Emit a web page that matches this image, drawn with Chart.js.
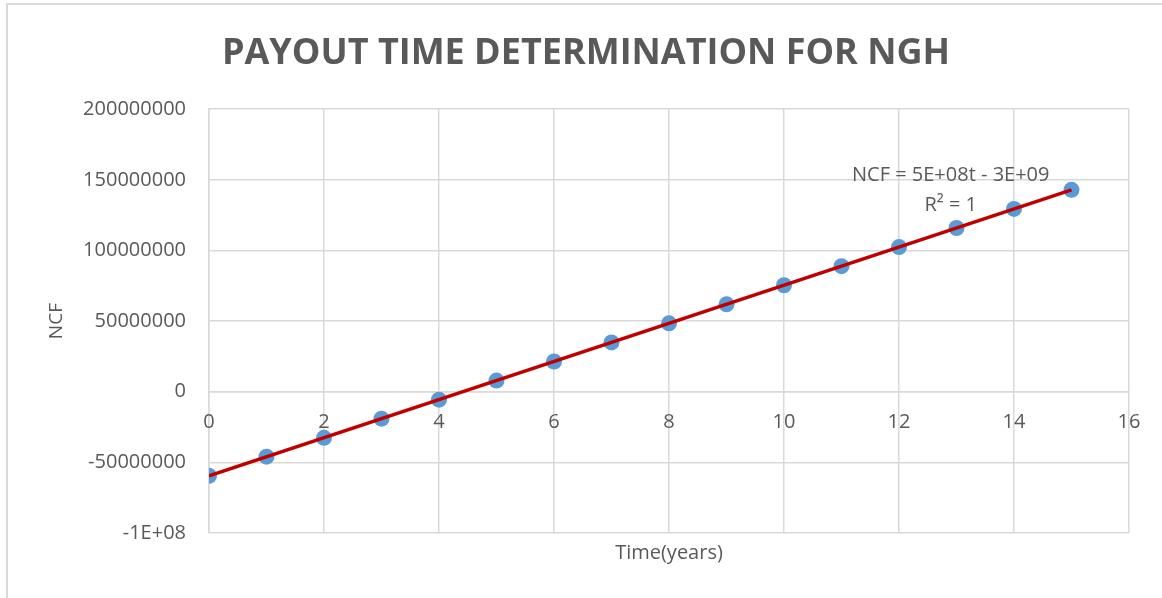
<!DOCTYPE html>
<html>
<head>
<meta charset="utf-8">
<title>Payout time determination for NGH</title>
<script src="https://cdn.jsdelivr.net/npm/chart.js@4.4.1/dist/chart.umd.min.js"></script>
<style>
  html, body { margin: 0; padding: 0; background: #fff; }
  #wrap {
    position: absolute;
    left: 6px;
    top: 3px;
    width: 1156px;
    height: 595px;
    border-left: 2px solid #d9d9d9;
    border-top: 2px solid #d9d9d9;
  }
</style>
</head>
<body>
<div id="wrap"><canvas id="chart"></canvas></div>
<script>
/* global Chart */

// Net cash flow, one value per year
const years = [0, 1, 2, 3, 4, 5, 6, 7, 8, 9, 10, 11, 12, 13, 14, 15];
const ncf = [
  -59.5e6, -46.0e6, -32.6e6, -19.1e6, -5.6e6, 7.9e6, 21.4e6, 34.9e6,
  48.4e6, 61.9e6, 75.4e6, 88.9e6, 102.4e6, 115.9e6, 129.4e6, 142.9e6
];

const yTickValues = [-1e8, -5e7, 0, 5e7, 1e8, 1.5e8, 2e8];
const yTickLabels = ['-1E+08', '-50000000', '0', '50000000', '100000000', '150000000', '200000000'];
const xTickLabels = ['0', '2', '4', '6', '8', '10', '12', '14', '16'];

const trendText = ['NCF = 5E+08t - 3E+09', 'R\u00b2 = 1'];

const TEXT = '#595959';
const GRID = '#d9d9d9';
const FONT = "'Open Sans', 'Liberation Sans', sans-serif";

// Least-squares line through the points (the Excel trendline)
function linearFit(xs, ys) {
  const n = xs.length;
  let sx = 0, sy = 0, sxy = 0, sxx = 0;
  for (let i = 0; i < n; i++) {
    sx += xs[i]; sy += ys[i]; sxy += xs[i] * ys[i]; sxx += xs[i] * xs[i];
  }
  const m = (n * sxy - sx * sy) / (n * sxx - sx * sx);
  return { m, b: (sy - m * sx) / n };
}
const fit = linearFit(years, ncf);
const tFirst = years[0];
const tLast = years[years.length - 1];

const trendLabel = {
  id: 'trendLabel',
  afterDatasetsDraw(chart) {
    const { ctx, scales } = chart;
    const x = scales.x.getPixelForValue(12.9);
    const ys = [153e6, 132e6].map(v => scales.y.getPixelForValue(v));
    ctx.save();
    ctx.font = '20px ' + FONT;
    ctx.fillStyle = TEXT;
    ctx.textAlign = 'center';
    ctx.textBaseline = 'middle';
    trendText.forEach((t, i) => ctx.fillText(t, x, ys[i]));
    ctx.restore();
  }
};

new Chart(document.getElementById('chart').getContext('2d'), {
  type: 'scatter',
  data: {
    datasets: [
      {
        type: 'line',
        label: 'Linear (NCF)',
        data: [
          { x: tFirst, y: fit.m * tFirst + fit.b },
          { x: tLast, y: fit.m * tLast + fit.b }
        ],
        borderColor: '#c00000',
        borderWidth: 3.5,
        pointRadius: 0,
        fill: false,
        order: 0
      },
      {
        label: 'NCF',
        data: years.map((t, i) => ({ x: t, y: ncf[i] })),
        backgroundColor: '#5b9bd5',
        borderWidth: 0,
        pointRadius: 8,
        order: 1
      }
    ]
  },
  options: {
    responsive: true,
    maintainAspectRatio: false,
    animation: false,
    layout: { padding: { left: 0, right: 0, top: 0, bottom: 35 } },
    font: { family: FONT },
    scales: {
      x: {
        type: 'linear',
        position: { y: 0 },
        min: 0,
        max: 16,
        ticks: {
          stepSize: 2,
          padding: 19,
          z: 1,
          color: TEXT,
          font: { size: 20, family: FONT },
          callback: (v, i) => xTickLabels[i]
        },
        grid: { color: GRID, lineWidth: 1.5, drawTicks: false },
        border: { color: GRID, width: 1.5 }
      },
      x2: {
        type: 'linear',
        position: 'bottom',
        min: 0,
        max: 16,
        ticks: { display: false },
        grid: { display: false, drawTicks: false },
        border: { display: false },
        title: {
          display: true,
          text: 'Time(years)',
          color: TEXT,
          font: { size: 20, family: FONT },
          padding: { top: 8, bottom: 0 }
        }
      },
      y: {
        type: 'linear',
        position: 'left',
        min: -1e8,
        max: 2e8,
        afterBuildTicks: s => { s.ticks = yTickValues.map(v => ({ value: v })); },
        afterFit: s => { s.width = 201; },
        ticks: {
          padding: 23,
          color: TEXT,
          font: { size: 20, family: FONT },
          callback: (v, i) => yTickLabels[i]
        },
        grid: { color: GRID, lineWidth: 1.5, drawTicks: false },
        border: { color: GRID, width: 1.5 },
        title: {
          display: true,
          text: 'NCF',
          color: TEXT,
          font: { size: 19, family: FONT },
          padding: { top: 37, bottom: 0 }
        }
      },
      // empty right-hand spacer so the title stays centred on the whole canvas
      yR: {
        type: 'linear',
        position: 'right',
        min: 0,
        max: 1,
        ticks: { display: false },
        grid: { display: false, drawTicks: false },
        border: { display: false },
        afterFit: s => { s.width = 35; }
      }
    },
    plugins: {
      legend: { display: false },
      tooltip: { enabled: false },
      title: {
        display: true,
        text: 'PAYOUT TIME DETERMINATION FOR NGH',
        color: TEXT,
        font: { size: 36, weight: 'bold', family: FONT },
        padding: { top: 27, bottom: 34 }
      }
    }
  },
  plugins: [trendLabel]
});
</script>
</body>
</html>
